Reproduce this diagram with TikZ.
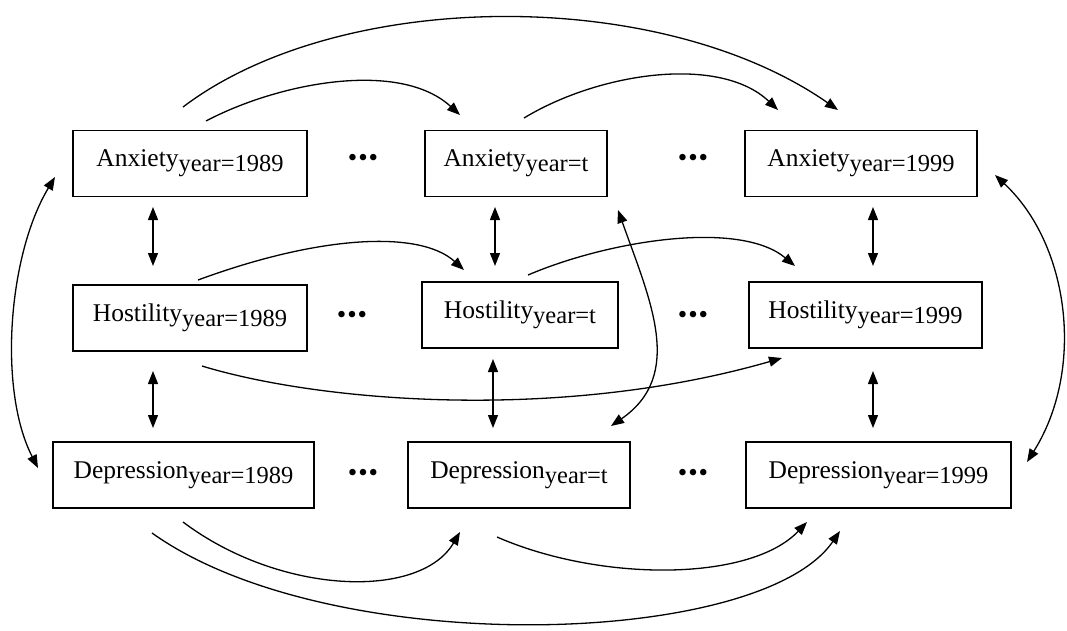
\documentclass[tikz,border=0pt]{standalone}
\usepackage{fontspec}
\setmainfont{Liberation Serif}
\usetikzlibrary{arrows.meta}
% variable name with a lowered index
\newcommand\varlab[2]{#1\raisebox{-5pt}{\fontsize{24.5}{24.5}\selectfont #2}}
\begin{document}
\begin{tikzpicture}[x=1pt,y=-1pt,
  >={Triangle[length=13pt,width=10pt]},
  var/.style={draw,line width=1.3pt,minimum height=66pt,inner sep=0pt,
    font=\fontsize{25.5}{25.5}\selectfont},
  link/.style={line width=1.3pt,->},
  both/.style={line width=1.3pt,<->},
  dots/.style={inner sep=0pt,font=\fontsize{27}{27}\selectfont}]
\useasboundingbox (0,0) rectangle (1067,630);

% boxes
\node[var,minimum width=234pt] (A1) at (190,163.5) {\varlab{Anxiety}{year=1989}};
\node[var,minimum width=182pt] (At) at (516,163.5) {\varlab{Anxiety}{year=t}};
\node[var,minimum width=232pt] (A9) at (861,163.5) {\varlab{Anxiety}{year=1999}};
\node[var,minimum width=234pt] (H1) at (190,318) {\varlab{Hostility}{year=1989}};
\node[var,minimum width=196pt] (Ht) at (520,315) {\varlab{Hostility}{year=t}};
\node[var,minimum width=233pt] (H9) at (865.5,315) {\varlab{Hostility}{year=1999}};
\node[var,minimum width=261pt] (D1) at (183.5,475) {\varlab{Depression}{year=1989}};
\node[var,minimum width=222pt] (Dt) at (519,475) {\varlab{Depression}{year=t}};
\node[var,minimum width=265pt] (D9) at (878.5,475) {\varlab{Depression}{year=1999}};

% ellipses between the years
\node[dots] (dA1) at (363,160) {\textbullet\kern1pt\textbullet\kern1pt\textbullet};
\node[dots] (dA2) at (693,160) {\textbullet\kern1pt\textbullet\kern1pt\textbullet};
\node[dots] (dH1) at (352,317) {\textbullet\kern1pt\textbullet\kern1pt\textbullet};
\node[dots] (dH2) at (693,317) {\textbullet\kern1pt\textbullet\kern1pt\textbullet};
\node[dots] (dD1) at (363,475) {\textbullet\kern1pt\textbullet\kern1pt\textbullet};
\node[dots] (dD2) at (693,475) {\textbullet\kern1pt\textbullet\kern1pt\textbullet};

% within-year correlations
\coordinate (a1s) at (153,207);  \coordinate (h1n) at (153,266);
\coordinate (h1s) at (153,371);  \coordinate (d1n) at (153,428);
\coordinate (ats) at (495,207);  \coordinate (htn) at (495,266);
\coordinate (hts) at (493,359);  \coordinate (dtn) at (493,428);
\coordinate (a9s) at (873,207);  \coordinate (h9n) at (873,266);
\coordinate (h9s) at (873,371);  \coordinate (d9n) at (873,428);
\draw[both] (a1s) -- (h1n);
\draw[both] (h1s) -- (d1n);
\draw[both] (ats) -- (htn);
\draw[both] (hts) -- (dtn);
\draw[both] (a9s) -- (h9n);
\draw[both] (h9s) -- (d9n);

% anxiety paths
\coordinate (aL) at (183,107);  \coordinate (aR) at (838,110);
\coordinate (a1o) at (206,121); \coordinate (ati) at (460,115);
\coordinate (ato) at (524,118); \coordinate (a9i) at (778,110);
\draw[link] (aL) .. controls (340,-12) and (660,-14) .. (aR);
\draw[link] (a1o) .. controls (280,82) and (400,60) .. (ati);
\draw[link] (ato) .. controls (600,72) and (720,55) .. (a9i);

% hostility paths
\coordinate (h1o) at (198,280); \coordinate (hti) at (464,270);
\coordinate (hto) at (528,275); \coordinate (h9i) at (795,266);
\coordinate (h1l) at (202,366); \coordinate (h9l) at (782,358);
\draw[link] (h1o) .. controls (320,235) and (420,230) .. (hti);
\draw[link] (hto) .. controls (610,240) and (740,220) .. (h9i);
\draw[link] (h1l) .. controls (320,402) and (560,422) .. (h9l);

% cross-construct correlation at year t
\coordinate (atr) at (618,210); \coordinate (dtr) at (611,426);
\draw[both] (atr) .. controls (650,300) and (685,375) .. (dtr);

% anxiety with depression at the first and last year
\coordinate (a1w) at (55,177);  \coordinate (d1w) at (38,468);
\coordinate (a9e) at (995,175); \coordinate (d9e) at (1027,462);
\draw[both] (a1w) .. controls (8,255) and (-2,390) .. (d1w);
\draw[both] (a9e) .. controls (1070,245) and (1085,370) .. (d9e);

% depression paths
\coordinate (d1o) at (183,522); \coordinate (dti) at (460,532);
\coordinate (dto) at (497,537); \coordinate (d9i) at (807,522);
\coordinate (dL) at (152,533);  \coordinate (dR) at (840,531);
\draw[link] (d1o) .. controls (280,595) and (420,600) .. (dti);
\draw[link] (dto) .. controls (600,582) and (750,582) .. (d9i);
\draw[link] (dL) .. controls (330,660) and (760,648) .. (dR);
\end{tikzpicture}
\end{document}
